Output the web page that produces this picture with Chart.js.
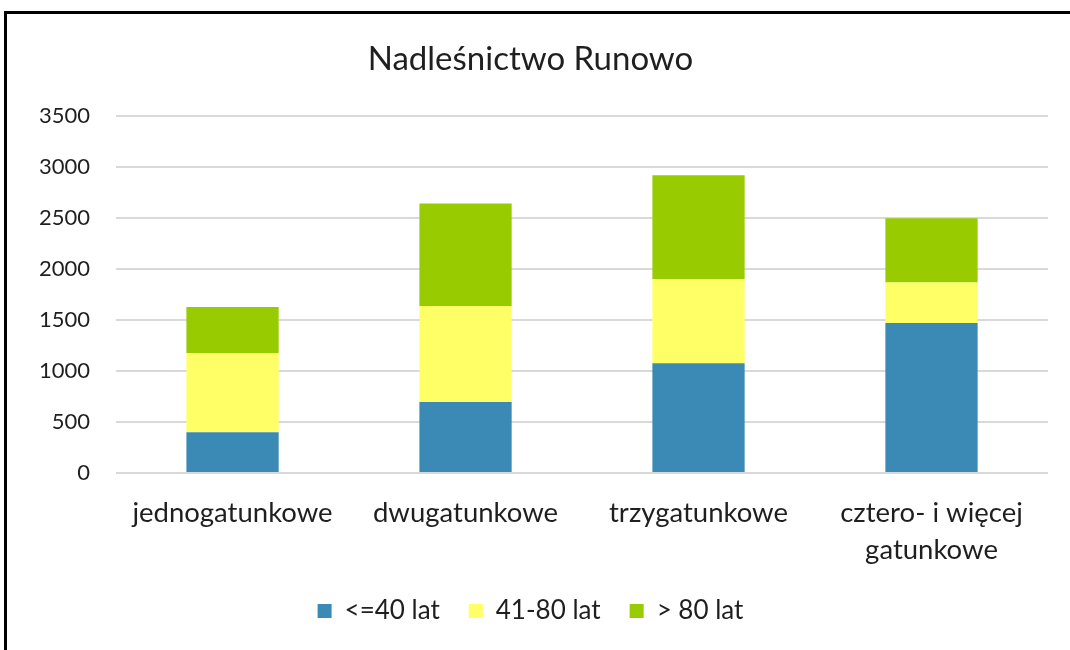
<!DOCTYPE html>
<html>
<head>
<meta charset="utf-8">
<script src="https://cdn.jsdelivr.net/npm/chart.js@4"></script>
<style>
  html, body { margin: 0; padding: 0; background: #fff; overflow: hidden; }
  #frame {
    position: absolute; left: 4px; top: 11px;
    width: 1100px; height: 700px;
    border: 3px solid #000;
  }
  #chart { position: absolute; left: 0; top: 0; }
</style>
</head>
<body>
<div id="frame"></div>
<canvas id="chart" width="1070" height="650"></canvas>
<script>
// Kategorie i dane
const categories = ['jednogatunkowe', 'dwugatunkowe', 'trzygatunkowe', ['cztero- i więcej', 'gatunkowe']];
const upTo40 = [400, 695, 1075, 1470];
const from41to80 = [775, 940, 825, 395];
const over80 = [450, 1005, 1015, 630];
const seriesNames = ['<=40 lat', '41-80 lat', '> 80 lat'];
const seriesColors = ['#3A8AB5', '#FFFF66', '#99CC00'];

const fontFamily = 'Lato, "Open Sans", sans-serif';
const textColor = '#1f1f1f';

const ctx = document.getElementById('chart').getContext('2d');
const chart = new Chart(ctx, {
  type: 'bar',
  data: {
    labels: categories,
    datasets: [upTo40, from41to80, over80].map((values, i) => ({
      label: seriesNames[i],
      data: values,
      backgroundColor: seriesColors[i],
      borderWidth: 0,
      categoryPercentage: 1,
      barPercentage: 0.396,
    })),
  },
  options: {
    responsive: false,
    animation: false,
    layout: { padding: { left: 13, right: 22, top: 0, bottom: 16 } },
    plugins: {
      title: {
        display: true,
        text: 'Nadleśnictwo Runowo',
        color: textColor,
        font: { family: fontFamily, size: 33, weight: 'normal' },
        padding: { top: 40, bottom: 36 },
      },
      legend: {
        position: 'bottom',
        labels: {
          color: textColor,
          font: { family: fontFamily, size: 26 },
          boxWidth: 14,
          boxHeight: 14,
          padding: 29,
        },
      },
      tooltip: { enabled: false },
    },
    scales: {
      x: {
        stacked: true,
        grid: { display: false, drawTicks: false },
        border: { display: false },
        ticks: {
          color: textColor,
          font: { family: fontFamily, size: 27.5, lineHeight: 1.33 },
          padding: 22,
          maxRotation: 0,
        },
        // bez dodatkowego odstępu pod etykietami
        afterFit: (scale) => { scale.height = 96; },
      },
      y: {
        stacked: true,
        min: 0,
        max: 3500,
        grid: { color: '#d9d9d9', lineWidth: 2, drawTicks: false },
        border: { display: false },
        ticks: {
          stepSize: 500,
          color: textColor,
          font: { family: fontFamily, size: 22 },
          padding: 26,
          callback: (value) => String(value),
        },
      },
    },
  },
});
chart.update();
</script>
</body>
</html>
